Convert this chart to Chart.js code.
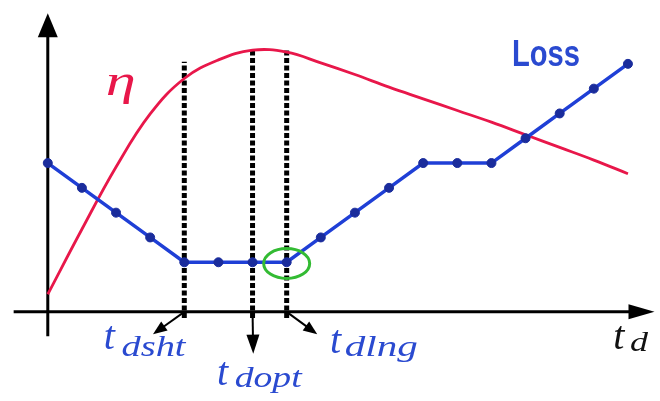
<!DOCTYPE html>
<html><head><meta charset="utf-8">
<script src="https://cdn.jsdelivr.net/npm/chart.js@4.4.0/dist/chart.umd.min.js"></script>
<style>html,body{margin:0;padding:0;background:#fff;}#wrap{width:660px;height:401px;}</style>
</head><body><div id="wrap"><canvas id="c" width="660" height="401"></canvas></div>
<script>
// ---- data ----
const steps = [0,1,2,3,4,5,6,7,8,9,10,11,12,13,14,15,16,17];
const lossValues = [6,5,4,3,2,2,2,2,3,4,5,6,6,6,7,8,9,10];
const etaValues = [0.71,3.33,5.84,7.98,9.41,10.16,10.55,10.47,10.04,9.57,9.06,8.59,8.12,7.65,7.14,6.63,6.12,5.57];
const markerSteps = [4,6,7];
const markerTops = [10.08,10.59,10.59];
const markerMain = ['t','t','t'];
const markerSubs = ['dsht','dopt','dlng'];
const axisLabel = ['t','d'];
const seriesNames = ['Loss','η'];

// ---- style / annotation geometry ----
const BLUE = '#1f3fd6', RED = '#e8174a', TXTBLUE = '#2a4ad0', GREEN = '#33bb33';
const SERIF = '"Liberation Serif", "Times New Roman", serif';
const ann = {
  xAxis: {from: -1.0, to: 17.778},
  yAxis: {from: -0.98, to: 12.04},
  arrowEnds: [[3.083,-0.902],[6.02,-1.686],[7.895,-0.902]],
  markerText: [
    {t:[1.642,-1.49], s:[2.161,-1.765], w:64},
    {t:[4.956,-2.94], s:[5.475,-3.02], w:67},
    {t:[8.27,-1.65], s:[8.70,-1.80], w:73}
  ],
  axisText: {t:[16.57,-1.49], s:[17.06,-1.57], w:18},
  lossText: {p:[13.6,9.92], w:68},
  etaText: {p:[1.70,8.75], w:30},
  circle: {step:7, dy:-0.05, rx:23, ry:15}
};

const pts = (xs, ys) => xs.map((x,i)=>({x:x, y:ys[i]}));

const datasets = [
  {label: seriesNames[0], data: pts(steps, lossValues), borderColor: BLUE, borderWidth: 3.5,
   pointRadius: 4.5, pointBackgroundColor: '#1a2c9c', pointBorderColor: '#1a2c9c', pointBorderWidth: 1,
   tension: 0, order: 1},
  {label: seriesNames[1], data: pts(steps, etaValues), borderColor: RED, borderWidth: 2.8,
   pointRadius: 0, tension: 0.4, order: 2}
];
markerSteps.forEach((s,i)=>{
  datasets.push({label:'m'+i, data:[{x:s,y:-0.25},{x:s,y:markerTops[i]}], borderColor:'#000',
    borderWidth:5, borderDash:[5,2.5], borderCapStyle:'butt', pointRadius:0, order:3});
});

function arrow(ctx, x1,y1,x2,y2, hl, hw, lw){
  const a = Math.atan2(y2-y1, x2-x1);
  ctx.save();
  ctx.strokeStyle='#000'; ctx.fillStyle='#000'; ctx.lineWidth=lw;
  ctx.beginPath(); ctx.moveTo(x1,y1);
  ctx.lineTo(x2-Math.cos(a)*hl*0.8, y2-Math.sin(a)*hl*0.8); ctx.stroke();
  ctx.translate(x2,y2); ctx.rotate(a);
  ctx.beginPath(); ctx.moveTo(0,0); ctx.lineTo(-hl, -hw/2); ctx.lineTo(-hl, hw/2); ctx.closePath(); ctx.fill();
  ctx.restore();
}
function fitText(ctx, text, font, x, y, color, w){
  ctx.save(); ctx.font = font; ctx.fillStyle = color; ctx.textBaseline='alphabetic'; ctx.textAlign='left';
  const m = ctx.measureText(text).width;
  const sx = w ? w/m : 1;
  ctx.translate(x,y); ctx.scale(sx,1); ctx.fillText(text,0,0);
  ctx.restore();
}

const deco = {
  id:'deco',
  beforeDatasetsDraw(chart){
    const ctx = chart.ctx, X = chart.scales.x, Y = chart.scales.y;
    const y0 = Y.getPixelForValue(0), x0 = X.getPixelForValue(0);
    arrow(ctx, X.getPixelForValue(ann.xAxis.from), y0, X.getPixelForValue(ann.xAxis.to), y0, 26, 15, 3);
    arrow(ctx, x0, Y.getPixelForValue(ann.yAxis.from), x0, Y.getPixelForValue(ann.yAxis.to), 24, 20, 3);
  },
  afterDatasetsDraw(chart){
    const ctx = chart.ctx, X = chart.scales.x, Y = chart.scales.y;
    const px = v=>X.getPixelForValue(v), py = v=>Y.getPixelForValue(v);
    markerSteps.forEach((s,i)=>{
      const e = ann.arrowEnds[i];
      arrow(ctx, px(s), py(0), px(e[0]), py(e[1]), i===1?19:14, i===1?13:11, 2);
    });
    ctx.save(); ctx.strokeStyle=GREEN; ctx.lineWidth=3;
    ctx.beginPath();
    ctx.ellipse(px(ann.circle.step), py(lossValues[ann.circle.step]+ann.circle.dy), ann.circle.rx, ann.circle.ry, 0, 0, Math.PI*2);
    ctx.stroke(); ctx.restore();
    markerSteps.forEach((s,i)=>{
      const mt = ann.markerText[i];
      fitText(ctx, markerMain[i], 'italic 40px ' + SERIF, px(mt.t[0]), py(mt.t[1]), TXTBLUE);
      fitText(ctx, markerSubs[i], 'italic 30px ' + SERIF, px(mt.s[0]), py(mt.s[1]), TXTBLUE, mt.w);
    });
    fitText(ctx, axisLabel[0], 'italic 40px ' + SERIF, px(ann.axisText.t[0]), py(ann.axisText.t[1]), '#111');
    fitText(ctx, axisLabel[1], 'italic 28px ' + SERIF, px(ann.axisText.s[0]), py(ann.axisText.s[1]), '#111', ann.axisText.w);
    fitText(ctx, seriesNames[0], 'bold 36px "Liberation Sans", Arial, sans-serif', px(ann.lossText.p[0]), py(ann.lossText.p[1]), TXTBLUE, ann.lossText.w);
    fitText(ctx, seriesNames[1], 'italic 44px ' + SERIF, px(ann.etaText.p[0]), py(ann.etaText.p[1]), RED, ann.etaText.w);
  }
};

new Chart(document.getElementById('c'), {
  type: 'line',
  data: {datasets},
  options: {
    responsive: false, animation: false, devicePixelRatio: 1,
    layout: {padding: 0},
    plugins: {legend: {display:false}, tooltip: {enabled:false}},
    scales: {
      x: {type:'linear', min:-1.239, max:17.778, display:false},
      y: {type:'linear', min:-3.373, max:12.353, display:false}
    }
  },
  plugins: [deco]
});
</script>
</body></html>
